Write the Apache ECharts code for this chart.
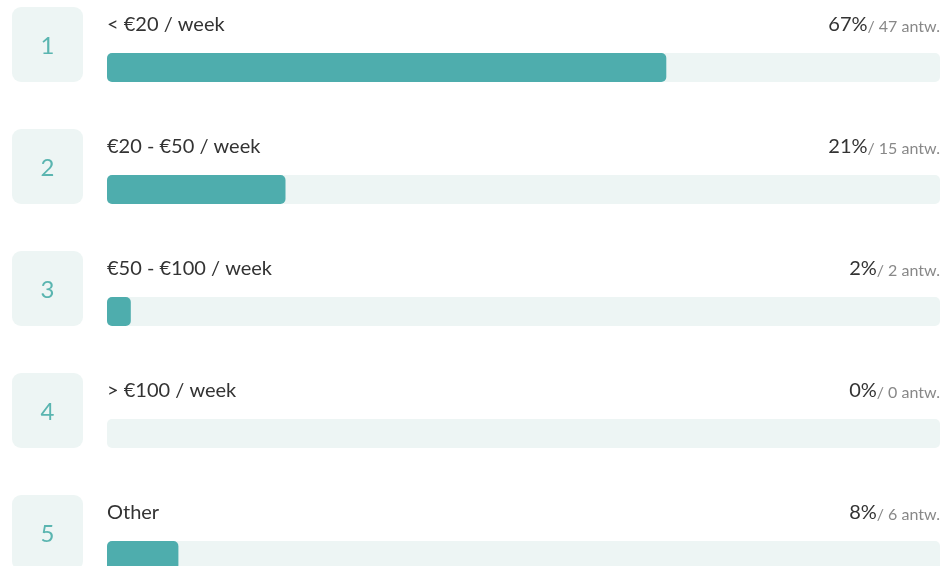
<!DOCTYPE html>
<html>
<head>
<meta charset="utf-8">
<script src="https://cdn.jsdelivr.net/npm/echarts@6/dist/echarts.min.js"></script>
<style>
  html, body { margin: 0; padding: 0; background: #fff; }
  #chart { width: 943px; height: 566px; }
</style>
</head>
<body>
<div id="chart"></div>
<script>
// Answer options, shown top to bottom
const categories = ['< €20 / week', '€20 - €50 / week', '€50 - €100 / week', '> €100 / week', 'Other'];
// Number of answers per option
const counts = [47, 15, 2, 0, 6];
// Percentage shown next to each option
const percents = [67, 21, 2, 0, 8];

const total = counts.reduce((a, b) => a + b, 0);

const TEAL = '#4EADAD';
const TRACK = '#EDF5F4';
const NUM = '#5AB5B0';
const FONT = 'Lato, "Noto Sans", sans-serif';

const chart = echarts.init(document.getElementById('chart'), null, { renderer: 'canvas' });

chart.setOption({
  animation: false,
  backgroundColor: '#fff',
  // each option gets a 122px band; the last one runs past the bottom edge
  grid: { left: 107, right: 3, top: 6.5, height: 610, outerBoundsMode: 'none' },
  xAxis: { type: 'value', min: 0, max: total, show: false },
  yAxis: {
    type: 'category',
    data: categories,
    inverse: true,
    show: false
  },
  series: [
    {
      type: 'bar',
      data: counts,
      barWidth: 29,
      itemStyle: { color: TEAL, borderRadius: 5 },
      showBackground: true,
      backgroundStyle: { color: TRACK, borderRadius: 5 },
      z: 2
    },
    {
      // Number badges, option titles and answer counts around each bar
      type: 'custom',
      data: categories.map((c, i) => [0, i]),
      encode: { x: 0, y: 1 },
      clip: false,
      z: 3,
      renderItem: function (params, api) {
        const i = api.value(1);
        const left = api.coord([0, i]);
        const right = api.coord([total, i]);
        const cy = left[1];
        const barTop = cy - 14.5;
        const barBottom = cy + 14.5;
        const textY = barTop - 28;
        return {
          type: 'group',
          children: [
            {
              type: 'rect',
              shape: { x: 12, y: barBottom - 75, width: 71, height: 75, r: 9 },
              style: { fill: TRACK }
            },
            {
              type: 'text',
              style: {
                x: 47.5, y: barBottom - 36,
                text: String(i + 1),
                fill: NUM,
                font: '24px ' + FONT,
                align: 'center', verticalAlign: 'middle'
              }
            },
            {
              type: 'text',
              style: {
                x: left[0], y: textY,
                text: categories[i],
                fill: '#333',
                font: '20px ' + FONT,
                align: 'left', verticalAlign: 'middle'
              }
            },
            {
              type: 'text',
              style: {
                x: right[0], y: textY,
                text: '{p|' + percents[i] + '%}{n|/ ' + counts[i] + ' antw.}',
                align: 'right', verticalAlign: 'middle',
                rich: {
                  p: { font: '20px ' + FONT, fill: '#333' },
                  n: { font: '16px ' + FONT, fill: '#888', padding: [4, 0, 0, 0] }
                }
              }
            }
          ]
        };
      }
    }
  ]
});
</script>
</body>
</html>
